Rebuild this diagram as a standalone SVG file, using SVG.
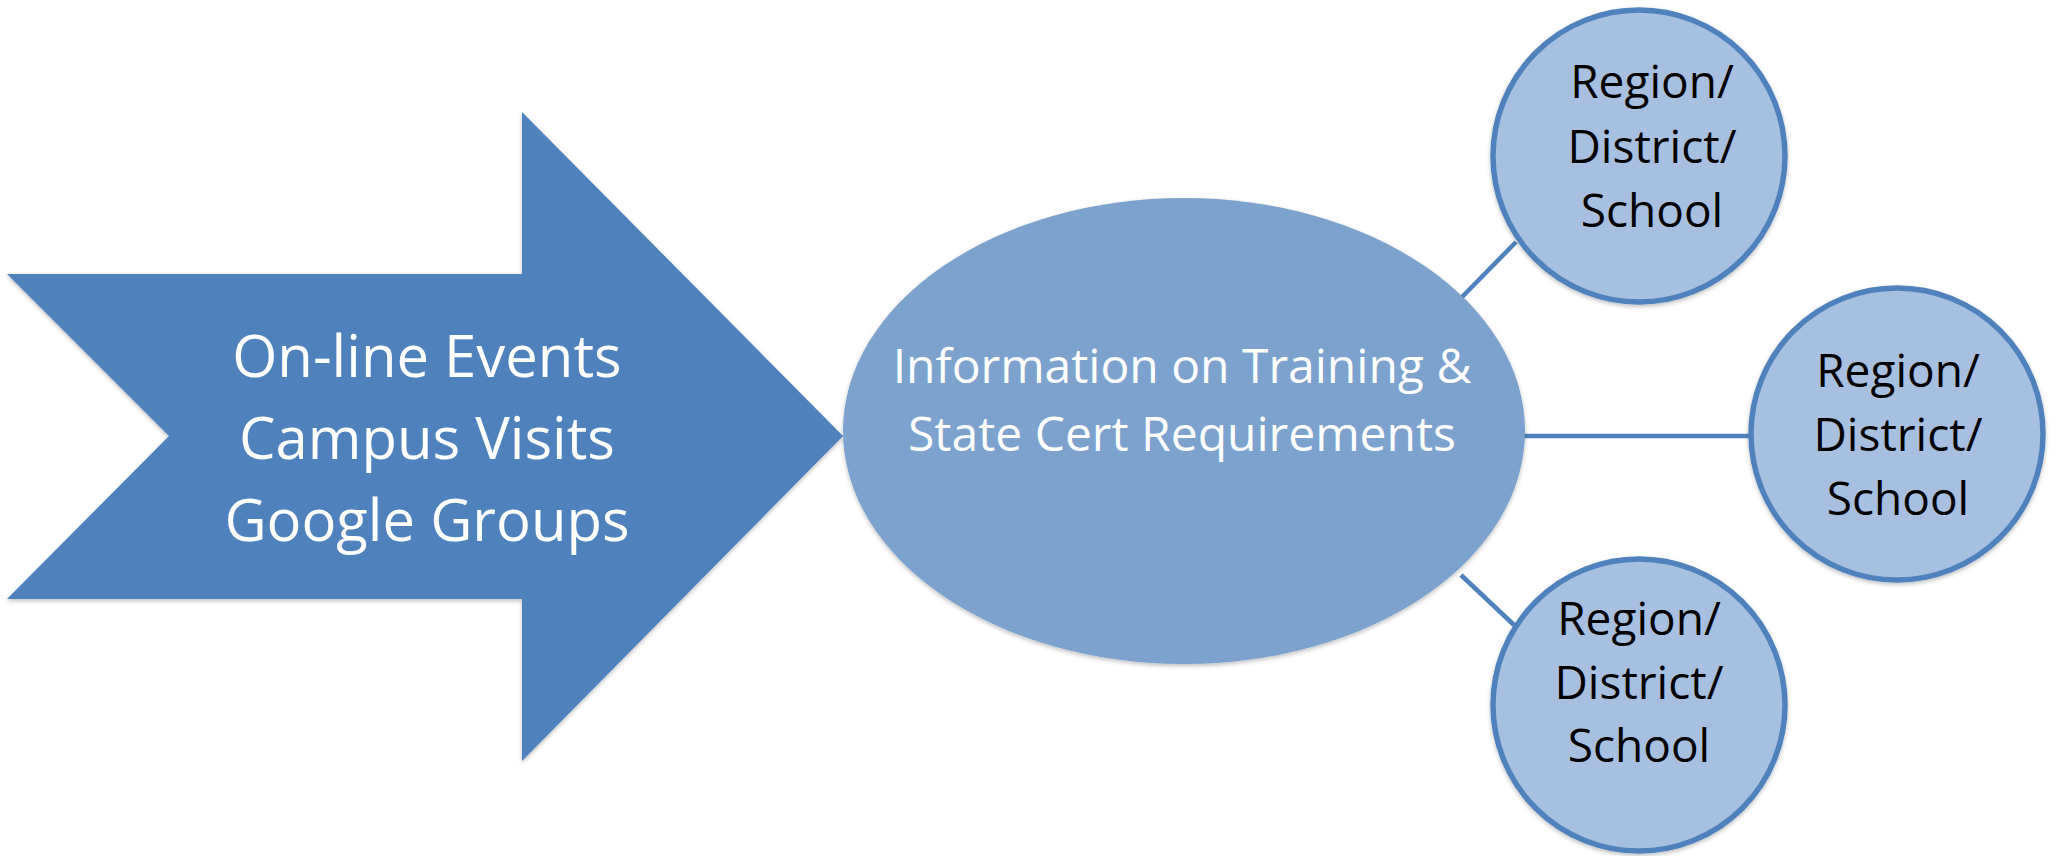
<svg xmlns="http://www.w3.org/2000/svg" width="2065" height="856" viewBox="0 0 2065 856">
  <style>
    .arrow { fill: #4F81BD; }
    .hub { fill: #7BA2CD; }
    .leaf { fill: #A7C0DF; stroke: #4F81BD; stroke-width: 5.5; }
    .conn { stroke: #4F81BD; stroke-width: 4.5; fill: none; }
    .wt { font-family: "Open Sans", "Noto Sans", sans-serif; fill: #FFFFFF; text-anchor: middle; }
    .bt { font-family: "Open Sans", "Noto Sans", sans-serif; fill: #000000; text-anchor: middle; font-size: 46px; }
  </style>
  <defs>
    <filter id="sh" x="-10%" y="-10%" width="120%" height="125%">
      <feDropShadow dx="0" dy="2" stdDeviation="2" flood-color="#000" flood-opacity="0.25"/>
    </filter>
  </defs>
  <rect width="2065" height="856" fill="#FFFFFF"/>

  <g id="connectors">
    <line class="conn" x1="1462" y1="297" x2="1516" y2="242"/>
    <line class="conn" x1="1522" y1="436" x2="1752" y2="436"/>
    <line class="conn" x1="1461" y1="575" x2="1514" y2="625"/>
  </g>

  <g id="arrow">
    <polygon class="arrow" filter="url(#sh)" points="7,274 522,274 522,112 843,436 522,761 522,599 7,599 169,436"/>
    <text class="wt" font-size="58" x="427" y="377">On-line Events</text>
    <text class="wt" font-size="58" x="427" y="459">Campus Visits</text>
    <text class="wt" font-size="58" x="427" y="541">Google Groups</text>
  </g>

  <g id="hub">
    <ellipse class="hub" filter="url(#sh)" cx="1184" cy="431" rx="341" ry="233"/>
    <text class="wt" font-size="48" x="1182" y="383">Information on Training &amp;</text>
    <text class="wt" font-size="48" x="1182" y="451">State Cert Requirements</text>
  </g>

  <g id="leaf1">
    <circle class="leaf" filter="url(#sh)" cx="1639" cy="156" r="146"/>
    <text class="bt" x="1652" y="98">Region/</text>
    <text class="bt" x="1652" y="163">District/</text>
    <text class="bt" x="1652" y="227">School</text>
  </g>

  <g id="leaf2">
    <circle class="leaf" filter="url(#sh)" cx="1897" cy="434" r="146"/>
    <text class="bt" x="1898" y="387">Region/</text>
    <text class="bt" x="1898" y="451">District/</text>
    <text class="bt" x="1898" y="515">School</text>
  </g>

  <g id="leaf3">
    <circle class="leaf" filter="url(#sh)" cx="1639" cy="705" r="146"/>
    <text class="bt" x="1639" y="635">Region/</text>
    <text class="bt" x="1639" y="699">District/</text>
    <text class="bt" x="1639" y="762">School</text>
  </g>
</svg>
